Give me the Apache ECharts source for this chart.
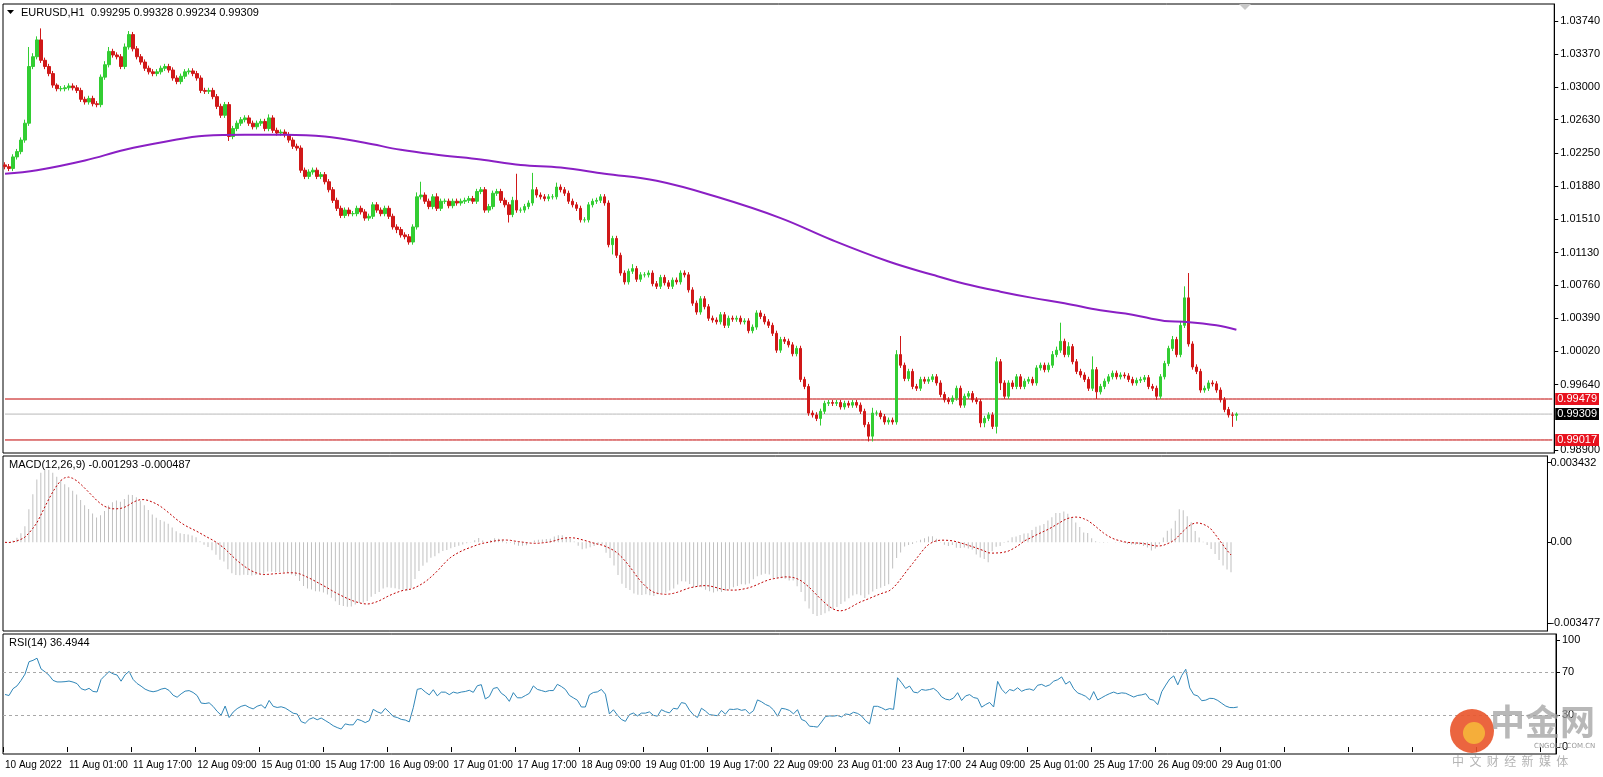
<!DOCTYPE html>
<html><head><meta charset="utf-8">
<script src="https://cdn.jsdelivr.net/npm/echarts@6/dist/echarts.min.js"></script>
<style>html,body{margin:0;padding:0;background:#fff}#c{width:1603px;height:777px}</style>
</head><body><div id="c"></div>
<script>
const firstOpen = 1.0212;
const closes = [
1.0210,1.0208,1.0221,1.0227,1.0240,1.0259,1.0323,1.0334,1.0353,1.0330,
1.0323,1.0315,1.0302,1.0298,1.0298,1.0299,1.0301,1.0299,1.0296,1.0286,
1.0283,1.0287,1.0281,1.0280,1.0311,1.0325,1.0340,1.0336,1.0334,1.0323,
1.0345,1.0359,1.0343,1.0334,1.0328,1.0321,1.0317,1.0315,1.0317,1.0321,
1.0323,1.0319,1.0310,1.0306,1.0312,1.0317,1.0318,1.0315,1.0310,1.0296,
1.0295,1.0296,1.0289,1.0278,1.0268,1.0280,1.0244,1.0253,1.0259,1.0263,
1.0265,1.0259,1.0255,1.0259,1.0261,1.0253,1.0265,1.0251,1.0248,1.0249,
1.0246,1.0240,1.0233,1.0231,1.0206,1.0199,1.0204,1.0206,1.0199,1.0201,
1.0193,1.0184,1.0172,1.0163,1.0155,1.0161,1.0157,1.0157,1.0163,1.0159,
1.0152,1.0154,1.0167,1.0161,1.0157,1.0163,1.0154,1.0142,1.0139,1.0133,
1.0131,1.0125,1.0142,1.0176,1.0178,1.0171,1.0165,1.0176,1.0163,1.0171,
1.0171,1.0166,1.0171,1.0169,1.0171,1.0172,1.0174,1.0171,1.0182,1.0184,
1.0161,1.0165,1.0180,1.0182,1.0172,1.0167,1.0156,1.0172,1.0161,1.0161,
1.0165,1.0169,1.0184,1.0178,1.0176,1.0174,1.0176,1.0176,1.0187,1.0184,
1.0180,1.0171,1.0167,1.0163,1.0150,1.0150,1.0167,1.0171,1.0172,1.0176,
1.0169,1.0122,1.0129,1.0110,1.0090,1.0080,1.0092,1.0095,1.0083,1.0088,
1.0088,1.0090,1.0078,1.0075,1.0085,1.0079,1.0075,1.0082,1.0080,1.0090,
1.0088,1.0071,1.0056,1.0046,1.0061,1.0052,1.0039,1.0037,1.0035,1.0043,
1.0031,1.0039,1.0038,1.0039,1.0035,1.0036,1.0025,1.0029,1.0045,1.0041,
1.0035,1.0031,1.0022,1.0003,1.0015,1.0013,1.0009,0.9999,1.0005,0.9970,
0.9962,0.9932,0.9930,0.9926,0.9934,0.9943,0.9944,0.9943,0.9944,0.9939,
0.9943,0.9941,0.9944,0.9941,0.9934,0.9919,0.9906,0.9932,0.9932,0.9928,
0.9922,0.9924,0.9922,0.9998,0.9986,0.9971,0.9979,0.9962,0.9960,0.9970,
0.9968,0.9970,0.9973,0.9966,0.9953,0.9947,0.9945,0.9949,0.9960,0.9941,
0.9951,0.9954,0.9947,0.9945,0.9921,0.9926,0.9930,0.9917,0.9990,0.9966,
0.9951,0.9966,0.9962,0.9973,0.9962,0.9968,0.9970,0.9966,0.9983,0.9986,
0.9981,0.9986,0.9998,1.0003,1.0013,0.9998,1.0007,0.9990,0.9979,0.9975,
0.9970,0.9960,0.9981,0.9956,0.9962,0.9968,0.9973,0.9977,0.9973,0.9975,
0.9974,0.9970,0.9966,0.9969,0.9970,0.9972,0.9962,0.9960,0.9951,0.9973,
0.9988,1.0005,1.0015,0.9998,1.0031,1.0062,1.0010,0.9984,0.9979,0.9958,
0.9960,0.9966,0.9965,0.9958,0.9947,0.9936,0.9930,0.99295,0.99309];
// upper / lower wick lengths in pips (0.0001)
const hiW = [
3,3,3,3,3,4,22,4,4,13, 3,3,3,2,3,3,3,3,3,3, 3,3,3,3,3,4,5,3,3,3, 4,4,3,3,3,3,3,3,3,3,
3,3,3,3,3,3,3,3,3,3, 3,3,3,3,3,3,3,3,3,3, 3,3,3,3,3,3,4,3,3,3, 3,3,3,3,3,3,3,3,3,3,
3,3,3,3,3,3,3,3,3,3, 3,3,3,3,3,3,3,3,3,3, 3,3,3,5,15,3,3,3,4,3, 3,3,3,3,3,3,3,3,3,3,
3,3,3,3,3,3,3,4,30,3, 3,3,19,3,3,3,3,3,5,3, 3,3,3,3,3,3,3,3,3,3, 3,3,3,3,3,3,3,5,3,3,
3,3,3,3,3,3,3,3,3,3, 3,3,3,3,3,3,3,3,3,3, 3,3,3,3,3,3,3,3,3,3, 3,3,3,3,3,3,3,3,3,3,
3,3,3,3,3,3,3,3,3,3, 3,3,3,3,3,3,3,6,3,3, 3,3,3,5,21,3,3,3,3,3, 3,3,3,3,3,3,3,3,3,3,
3,3,3,3,3,3,3,3,5,3, 3,3,3,3,3,3,3,3,3,3, 3,3,4,4,21,3,5,3,3,3, 3,3,15,3,3,3,3,3,3,3,
3,3,3,3,3,3,3,3,3,3, 3,3,4,3,5,13,28,3,3,3, 3,3,3,3,3,3,3,3,2];
const loW = [
3,3,3,3,3,3,3,3,3,3, 3,3,3,3,3,3,3,3,3,3, 3,3,3,3,3,3,3,3,3,3, 3,3,3,3,3,3,3,3,3,3,
3,3,3,3,3,3,3,3,3,3, 3,3,3,3,3,3,5,3,3,3, 3,3,3,3,3,3,3,3,3,3, 3,3,3,3,3,3,3,3,3,3,
3,3,3,3,3,3,3,3,3,3, 3,3,3,3,3,3,3,3,4,3, 3,3,3,3,3,3,3,3,3,3, 3,3,3,3,3,3,3,3,3,3,
3,3,3,3,3,3,9,3,3,3, 3,3,3,3,3,3,3,3,3,3, 3,3,3,3,3,3,3,3,3,3, 3,3,11,3,3,3,3,3,3,3,
3,3,3,3,3,3,3,3,3,3, 3,3,3,3,3,3,3,3,3,3, 3,3,3,3,3,3,3,3,3,3, 3,3,3,3,3,3,3,3,3,3,
3,3,3,3,8,3,3,3,3,3, 3,3,3,3,3,3,6,6,3,3, 3,3,3,3,3,3,3,3,3,3, 3,3,3,3,3,3,3,3,3,3,
3,3,3,3,5,5,3,3,8,8, 3,3,3,3,3,3,3,3,3,3, 3,3,3,3,3,3,3,3,3,3, 3,3,3,8,3,3,3,3,3,3,
3,3,3,3,3,3,3,3,4,3, 3,3,3,3,3,3,3,3,3,3, 3,3,3,3,3,3,3,13,6];
const maIdx = [0,8,20,30,40,50,60,70,80,90,99,109,119,129,139,150,163,178,194,207,221,232,240,249,257,265,274,282,290,295,303,308];
const maVal = [1.0202,1.0206,1.0217,1.0229,1.0238,1.0245,1.0246,1.0246,1.0244,1.0237,1.0229,1.0223,1.0218,1.0212,1.0209,1.0202,1.0194,1.0176,1.0152,1.0127,1.0103,1.0088,1.0078,1.0069,1.0062,1.0056,1.0048,1.0043,1.0036,1.0035,1.0031,1.0026];
const tickLabels = ["10 Aug 2022","11 Aug 01:00","11 Aug 17:00","12 Aug 09:00","15 Aug 01:00","15 Aug 17:00","16 Aug 09:00","17 Aug 01:00","17 Aug 17:00","18 Aug 09:00","19 Aug 01:00","19 Aug 17:00","22 Aug 09:00","23 Aug 01:00","23 Aug 17:00","24 Aug 09:00","25 Aug 01:00","25 Aug 17:00","26 Aug 09:00","29 Aug 01:00"];
const priceTicks = [1.0374,1.0337,1.0300,1.0263,1.0225,1.0188,1.0151,1.0113,1.0076,1.0039,1.0002,0.9964,0.9890];
const levelVals = [0.99479, 0.99309, 0.99017];
const levelCols = ['#e8121e', '#000000', '#e8121e'];
const lineCols = ['#c00000', '#b8b8b8', '#c00000'];
const lastOHLC = [0.99295,0.99328,0.99234,0.99309];
const rsiSeed = 0.0004;

const SLOTS = 388;
const cats = []; for (let i=0;i<SLOTS;i++) cats.push(i);
const candles = closes.map((c,i)=>{
  const o = i===0 ? firstOpen : closes[i-1];
  return [o, c, Math.min(o,c)-loW[i]*1e-4, Math.max(o,c)+hiW[i]*1e-4];
});
candles[candles.length-1] = [lastOHLC[0], lastOHLC[3], lastOHLC[2], lastOHLC[1]];
const ma = new Array(SLOTS).fill(null); maIdx.forEach((k,j)=>ma[k]=maVal[j]);
function ema(arr,n){const k=2/(n+1);const r=[];arr.forEach((v,i)=>r.push(i===0?v:v*k+r[i-1]*(1-k)));return r;}
const e12=ema(closes,12), e26=ema(closes,26);
const macd=closes.map((v,i)=>e12[i]-e26[i]);
const sig=macd.map((v,i)=>{const s=Math.max(0,i-8);let t=0;for(let j=s;j<=i;j++)t+=macd[j];return t/(i-s+1);});
const rsi=[];let ag=rsiSeed,al=rsiSeed;
closes.forEach((c,i)=>{ const prev = i===0?firstOpen:closes[i-1]; const d=c-prev;
  ag=(ag*13+Math.max(d,0))/14; al=(al*13+Math.max(-d,0))/14;
  rsi.push(100-100/(1+ag/al)); });

const F='Liberation Sans';
const lab={fontFamily:F,fontSize:11,color:'#000'};
const chart=echarts.init(document.getElementById('c'));
const xBase=(gi,show)=>({type:'category',gridIndex:gi,data:cats,boundaryGap:true,
  axisLine:{show:false},axisTick:{show:show,interval:15,length:5,lineStyle:{color:'#000'}},
  axisLabel:{show:show,interval:15,align:'left',margin:6,fontFamily:F,fontSize:10,color:'#000',formatter:(v,idx)=>tickLabels[idx/16]??''},splitLine:{show:false}});
const levelSeries = levelVals.map((v,k)=>({type:'line',xAxisIndex:0,yAxisIndex:0,
  data:cats.map(()=>v),showSymbol:false,silent:true,z:1,
  lineStyle:{color:lineCols[k],width:1},
  endLabel:{show:true,distance:3,formatter:v.toFixed(5),backgroundColor:levelCols[k],color:'#fff',fontFamily:F,fontSize:11,padding:[1,2,0,2]}}));
chart.setOption({
  animation:false,backgroundColor:'#fff',
  grid:[
    {left:3,right:47,top:4,height:449,show:true,borderColor:'#000',borderWidth:1},
    {left:3,right:47,top:456,height:175,show:true,borderColor:'#000',borderWidth:1},
    {left:3,right:47,top:634,height:120,show:true,borderColor:'#000',borderWidth:1}
  ],
  xAxis:[xBase(0,false),xBase(1,false),xBase(2,true)],
  yAxis:[
    {type:'value',gridIndex:0,position:'right',min:0.98870,max:1.03935,scale:true,
     axisLine:{show:true,lineStyle:{color:'#000'}},splitLine:{show:false},
     axisTick:{show:true,length:4,customValues:priceTicks,lineStyle:{color:'#000'}},
     axisLabel:{...lab,margin:6,customValues:priceTicks,formatter:v=>v.toFixed(5)}},
    {type:'value',gridIndex:1,position:'right',min:-0.00382,max:0.00372,
     axisLine:{show:true,lineStyle:{color:'#000'}},splitLine:{show:false},
     axisTick:{show:true,length:4,customValues:[0.003432,0,-0.003477],lineStyle:{color:'#000'}},
     axisLabel:{...lab,margin:3,customValues:[0.003432,0,-0.003477],formatter:v=>v===0?'0.00':v.toFixed(6)}},
    {type:'value',gridIndex:2,position:'right',min:-6.5,max:105.5,
     axisLine:{show:true,lineStyle:{color:'#000'}},splitLine:{show:false},
     axisTick:{show:true,length:4,customValues:[100,70,30,0],lineStyle:{color:'#000'}},
     axisLabel:{...lab,margin:6,customValues:[100,70,30,0]}}
  ],
  series:[
    ...levelSeries,
    {type:'candlestick',xAxisIndex:0,yAxisIndex:0,data:candles,barWidth:3,z:3,
     itemStyle:{color:'#32cd32',color0:'#d01818',borderColor:'#32cd32',borderColor0:'#d01818',borderWidth:1}},
    {type:'line',xAxisIndex:0,yAxisIndex:0,data:ma,connectNulls:true,smooth:0.4,showSymbol:false,z:4,
     lineStyle:{color:'#8a1fc4',width:2}},
    {type:'bar',xAxisIndex:1,yAxisIndex:1,data:macd,barWidth:1,itemStyle:{color:'#c0c0c0'}},
    {type:'line',xAxisIndex:1,yAxisIndex:1,data:sig,showSymbol:false,lineStyle:{color:'#c00000',width:1,type:[2,2]}},
    {type:'line',xAxisIndex:2,yAxisIndex:2,data:rsi,showSymbol:false,lineStyle:{color:'#2f86b8',width:1},
     markLine:{silent:true,symbol:'none',label:{show:false},lineStyle:{color:'#a8a8a8',type:[3,3],width:1},data:[{yAxis:70},{yAxis:30}]}}
  ],
  graphic:[
    {type:'polygon',shape:{points:[[7,10],[14,10],[10.5,14]]},style:{fill:'#000'}},
    {type:'text',left:21,top:7,style:{text:'EURUSD,H1  '+lastOHLC.map(v=>v.toFixed(5)).join(' '),font:'11px "Liberation Sans"',fill:'#000'}},
    {type:'polygon',shape:{points:[[1239,4],[1251,4],[1245,10]]},style:{fill:'#c8c8c8'}},
    {type:'text',left:9,top:459,style:{text:'MACD(12,26,9) -0.001293 -0.000487',font:'11px "Liberation Sans"',fill:'#000'}},
    {type:'text',left:9,top:637,style:{text:'RSI(14) 36.4944',font:'11px "Liberation Sans"',fill:'#000'}},
    {type:'circle',shape:{cx:1472,cy:731,r:22},style:{fill:'#e9542a',opacity:0.9},z:50},
    {type:'circle',shape:{cx:1474,cy:733,r:11},style:{fill:'#f6b23a',opacity:0.95},z:51},
    {type:'text',left:1490,top:704,style:{text:'中金网',font:'bold 35px "Noto Sans CJK SC"',fill:'#a0a0a0',opacity:0.75},z:50},
    {type:'text',left:1534,top:743,style:{text:'CNGOLD.COM.CN',font:'7px "DejaVu Sans"',fill:'#9a9a9a'},z:50},
    {type:'text',left:1452,top:755,style:{text:'中  文  财  经  新  媒  体',font:'12px "Noto Sans CJK SC"',fill:'#b4b4b4'},z:50}
  ]
});
</script></body></html>
